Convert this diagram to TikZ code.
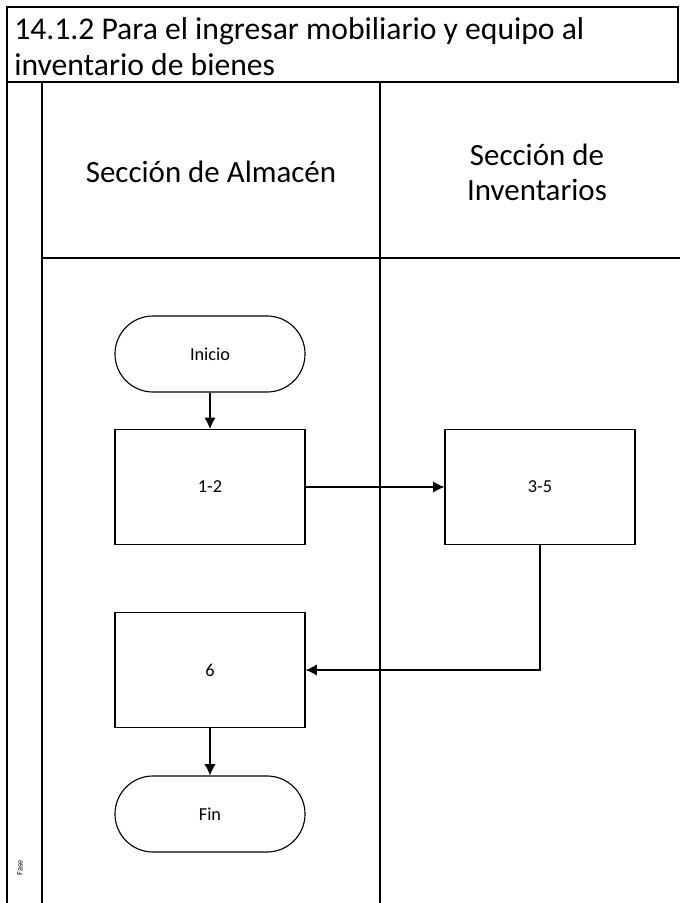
\documentclass[tikz,border=0pt]{standalone}
\usepackage{fontspec}
\setmainfont{Carlito}
\usepackage{tikz}
\usetikzlibrary{arrows,arrows.meta,calc,shapes}
\tikzset{
  procbox/.style={draw=black, thick, minimum width=4.75cm, minimum height=2.875cm, font=\fontsize{13}{15}\selectfont},
  termbox/.style={draw=black, thick, rounded corners=0.95cm, minimum width=4.75cm, minimum height=1.9cm, font=\fontsize{13}{15}\selectfont},
  flow/.style={thick, -{Latex[length=8pt, width=8pt]}},
  frame/.style={line width=1.2pt, draw=black}
}

\begin{document}
\begin{tikzpicture}[x=0.025cm, y=-0.025cm]
\useasboundingbox (0,0) rectangle (680,903);

%title row
\draw [frame] (7,7) rectangle (678,82);
\node (title) [anchor=north west, align=left, inner sep=0pt, font=\fontsize{22.5}{25.5}\selectfont] at (14,17) {14.1.2 Para el ingresar mobiliario y equipo al\\inventario de bienes};

%lanes
\draw [frame] (7,82) -- (7,903);
\draw [frame] (42,82) -- (42,903);
\draw [frame] (380,82) -- (380,903);
\draw [frame] (42,258) -- (680,258);

%lane headers
\node (almacen) [font=\fontsize{22}{25}\selectfont] at (211,172) {Sección de Almacén};
\node (inventarios) [align=center, font=\fontsize{22}{25}\selectfont] at (537,172) {Sección de\\Inventarios};
\node (fase) [rotate=90, font=\fontsize{6}{7}\selectfont] at (20,868) {Fase};

%steps
\node (inicio) [termbox] at (210,354) {Inicio};
\node (p12) [procbox] at (210,487) {1-2};
\node (p35) [procbox] at (540,487) {3-5};
\node (p6) [procbox] at (210,670) {6};
\node (fin) [termbox] at (210,814) {Fin};

%connectors
\draw [flow] (inicio) -- (p12);
\draw [flow] (p12) -- (p35);
\draw [flow] (p35.south) |- (p6.east);
\draw [flow] (p6) -- (fin);

\end{tikzpicture}
\end{document}
